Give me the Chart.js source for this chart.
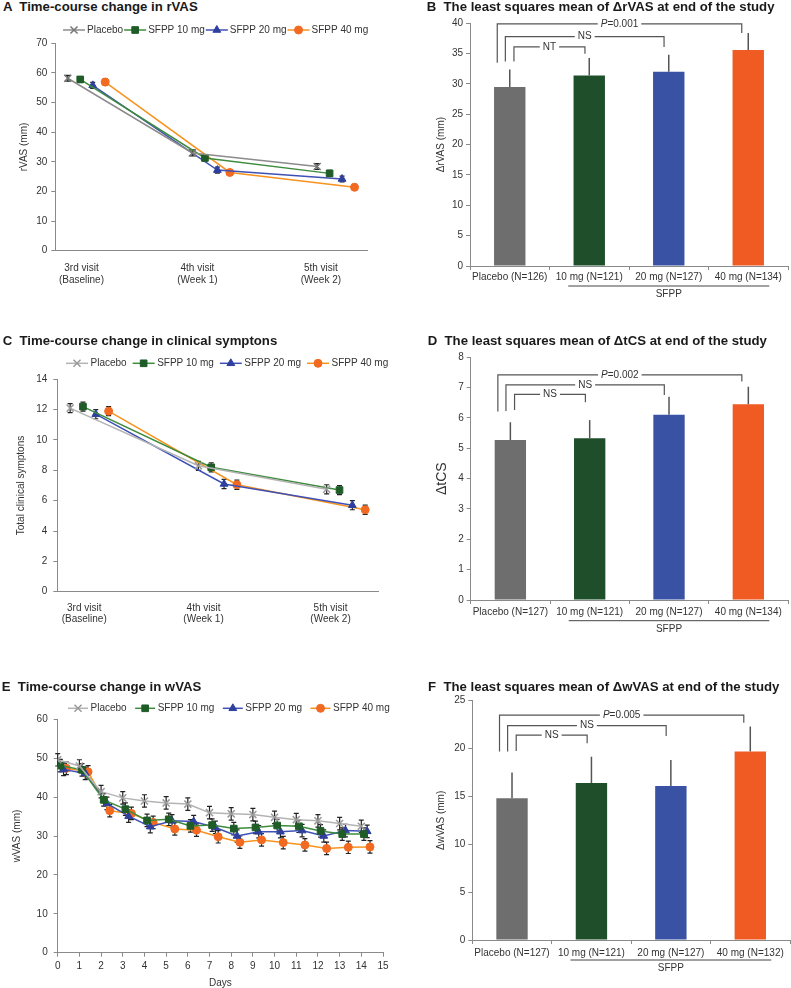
<!DOCTYPE html>
<html>
<head>
<meta charset="utf-8">
<script src="https://cdn.jsdelivr.net/npm/chart.js@4.4.1/dist/chart.umd.min.js"></script>
<style>
  body { margin: 0; width: 791px; height: 988px; overflow: hidden; background: #fff; position: relative;
         font-family: "Liberation Sans", Arial, sans-serif; }
  canvas { position: absolute; }
  .ttl { position: absolute; font-weight: bold; font-size: 13.2px; line-height: 13.2px; white-space: pre; color: #1a1a1a; }
</style>
</head>
<body>
<canvas id="cA" width="395" height="280" style="left:0;top:20px"></canvas>
<canvas id="cB" width="391" height="300" style="left:400px;top:10px"></canvas>
<canvas id="cC" width="395" height="290" style="left:0;top:345px"></canvas>
<canvas id="cD" width="391" height="300" style="left:400px;top:342px"></canvas>
<canvas id="cE" width="395" height="299" style="left:0;top:690px"></canvas>
<canvas id="cF" width="391" height="298" style="left:400px;top:690px"></canvas>

<div class="ttl" style="left:3px;top:0">A  Time-course change in rVAS</div>
<div class="ttl" style="left:426.7px;top:0">B  The least squares mean of ΔrVAS at end of the study</div>
<div class="ttl" style="left:2.7px;top:334px">C  Time-course change in clinical symptons</div>
<div class="ttl" style="left:427.7px;top:334px">D  The least squares mean of ΔtCS at end of the study</div>
<div class="ttl" style="left:1.7px;top:679.5px">E  Time-course change in wVAS</div>
<div class="ttl" style="left:428px;top:679.5px">F  The least squares mean of ΔwVAS at end of the study</div>

<script>
// ---- data ----
const groups = ['Placebo', 'SFPP 10 mg', 'SFPP 20 mg', 'SFPP 40 mg'];
const visits = [['3rd visit', '(Baseline)'], ['4th visit', '(Week 1)'], ['5th visit', '(Week 2)']];
const drugName = 'SFPP';

// A: rVAS by visit
const rvasPlacebo = [58.2, 33.0, 28.4];
const rvas10 = [57.8, 31.3, 26.1];
const rvas20 = [55.8, 27.2, 24.2];
const rvas40 = [56.9, 26.4, 21.4];
const rvasSem = [1.0, 1.0, 1.0];

// C: total clinical symptoms by visit
const tcsPlacebo = [12.1, 8.3, 6.75];
const tcs10 = [12.2, 8.2, 6.7];
const tcs20 = [11.7, 7.1, 5.7];
const tcs40 = [11.9, 7.05, 5.4];
const tcsSem = [0.3, 0.3, 0.3];

// E: wVAS by day
const days = [0, 1, 2, 3, 4, 5, 6, 7, 8, 9, 10, 11, 12, 13, 14];
const wvasPlacebo = [49.6, 48.0, 41.4, 39.8, 39.0, 38.5, 38.2, 36.0, 35.7, 35.5, 34.8, 34.2, 33.9, 33.2, 32.5];
const wvas10 = [48.1, 47.0, 39.3, 36.9, 34.0, 34.3, 32.6, 32.8, 31.9, 32.2, 32.7, 32.5, 31.3, 30.5, 30.5];
const wvas20 = [47.1, 46.1, 38.4, 35.1, 32.4, 33.9, 33.7, 32.2, 30.0, 31.1, 31.1, 31.4, 30.0, 31.4, 31.2];
const wvas40 = [47.4, 46.5, 36.5, 35.8, 33.5, 31.8, 31.5, 29.8, 28.4, 29.0, 28.3, 27.7, 26.8, 27.1, 27.2];
const wvasSem = [1.6, 1.6, 1.6, 1.6, 1.6, 1.6, 1.6, 1.6, 1.6, 1.6, 1.6, 1.6, 1.6, 1.6, 1.6];

// B: LS mean of delta rVAS
const rvasArms = ['Placebo (N=126)', '10 mg (N=121)', '20 mg (N=127)', '40 mg (N=134)'];
const rvasLsm = [29.5, 31.4, 32.0, 35.6];
const rvasLsmErr = [2.9, 2.9, 2.8, 2.8];
const rvasTest = ['P=0.001', 'NS', 'NT'];
const rvasTestTo = [3, 2, 1];
const rvasTestLevel = [39.9, 37.8, 36.1];
const rvasTestLeft = [33.5, 33.7, 33.7];
const rvasTestRight = [38.4, 36.1, 35.0];

// D: LS mean of delta tCS
const tcsArms = ['Placebo (N=127)', '10 mg (N=121)', '20 mg (N=127)', '40 mg (N=134)'];
const tcsLsm = [5.27, 5.33, 6.11, 6.45];
const tcsLsmErr = [0.59, 0.6, 0.59, 0.58];
const tcsTest = ['P=0.002', 'NS', 'NS'];
const tcsTestTo = [3, 2, 1];
const tcsTestLevel = [7.42, 7.09, 6.78];
const tcsTestLeft = [6.21, 6.23, 6.26];
const tcsTestRight = [7.2, 6.76, 6.52];

// F: LS mean of delta wVAS
const wvasArms = ['Placebo (N=127)', '10 mg (N=121)', '20 mg (N=127)', '40 mg (N=132)'];
const wvasLsm = [14.8, 16.4, 16.1, 19.7];
const wvasLsmErr = [2.7, 2.75, 2.7, 2.6];
const wvasTest = ['P=0.005', 'NS', 'NS'];
const wvasTestTo = [3, 2, 1];
const wvasTestLevel = [23.5, 22.4, 21.4];
const wvasTestLeft = [19.7, 19.7, 19.75];
const wvasTestRight = [22.7, 21.3, 20.55];

// ---- styles ----
const FONT = '"Liberation Sans", Arial, sans-serif';
Chart.defaults.font.family = FONT;
Chart.defaults.font.size = 10;
Chart.defaults.color = '#333';
const AXIS = '#8a8a8a';

const styleDark = [
  { line: '#8c8c8c', mark: '#767676', shape: 'crossRot', r: 5 },
  { line: '#3d8b3d', mark: '#1f5c28', shape: 'rect', r: 4.7 },
  { line: '#3f51b5', mark: '#2e3f9e', shape: 'triangle', r: 4.5 },
  { line: '#f7931e', mark: '#f26a21', shape: 'circle', r: 4 }
];
const styleLight = [{ line: '#b4b4b4', mark: '#9a9a9a', shape: 'crossRot', r: 5 }].concat(styleDark.slice(1));
const barColors = ['#6e6e6e', '#1f4e2a', '#3952a3', '#f05a23'];

// ---- plugins ----
function lineErrors(cap) {
  return {
    id: 'lineErrors',
    beforeDatasetsDraw(chart) {
      const ctx = chart.ctx, y = chart.scales.y;
      ctx.save();
      ctx.strokeStyle = '#222';
      ctx.lineWidth = 1.2;
      chart.data.datasets.forEach((ds, di) => {
        chart.getDatasetMeta(di).data.forEach((pt, i) => {
          const v = ds.data[i].y, e = ds.errors[i];
          const t = y.getPixelForValue(v + e), b = y.getPixelForValue(v - e);
          ctx.beginPath();
          ctx.moveTo(pt.x, t); ctx.lineTo(pt.x, b);
          ctx.moveTo(pt.x - cap, t); ctx.lineTo(pt.x + cap, t);
          ctx.moveTo(pt.x - cap, b); ctx.lineTo(pt.x + cap, b);
          ctx.stroke();
        });
      });
      ctx.restore();
    }
  };
}

function lineLegend(o) {
  return {
    id: 'lineLegend',
    afterDraw(chart) {
      const ctx = chart.ctx;
      ctx.save();
      ctx.font = '10px ' + FONT;
      ctx.textBaseline = 'middle';
      let x = o.x;
      chart.data.datasets.forEach(ds => {
        ctx.strokeStyle = ds.borderColor;
        ctx.lineWidth = 1.5;
        ctx.beginPath(); ctx.moveTo(x, o.y); ctx.lineTo(x + o.iconW, o.y); ctx.stroke();
        ctx.strokeStyle = ds.pointBorderColor;
        ctx.fillStyle = ds.pointBackgroundColor;
        ctx.lineWidth = ds.pointBorderWidth;
        Chart.helpers.drawPoint(ctx, { pointStyle: ds.pointStyle, radius: ds.pointRadius, rotation: 0,
          borderWidth: ds.pointBorderWidth }, x + o.iconW / 2, o.y);
        x += o.iconW + o.textGap;
        ctx.fillStyle = '#333';
        ctx.fillText(ds.label, x, o.y);
        x += ctx.measureText(ds.label).width + o.itemGap;
      });
      ctx.restore();
    }
  };
}

function barErrors(errs) {
  return {
    id: 'barErrors',
    afterDatasetsDraw(chart) {
      const ctx = chart.ctx, y = chart.scales.y, ds = chart.data.datasets[0];
      ctx.save();
      ctx.strokeStyle = '#555';
      ctx.lineWidth = 1.5;
      chart.getDatasetMeta(0).data.forEach((bar, i) => {
        ctx.beginPath();
        ctx.moveTo(bar.x, y.getPixelForValue(ds.data[i]));
        ctx.lineTo(bar.x, y.getPixelForValue(ds.data[i] + errs[i]));
        ctx.stroke();
      });
      ctx.restore();
    }
  };
}

// significance brackets, outermost first
function brackets(b) {
  const legL = [-12.5, -4.4, 4.2], legR = [-6.5, -4.7, -4.3];
  return {
    id: 'brackets',
    afterDatasetsDraw(chart) {
      const { ctx, scales: { x, y } } = chart;
      ctx.save();
      ctx.strokeStyle = '#555';
      ctx.lineWidth = 1.2;
      ctx.textBaseline = 'middle';
      b.labels.forEach((lab, k) => {
        const x1 = x.getPixelForValue(0) + legL[k];
        const x2 = x.getPixelForValue(b.to[k]) + legR[k];
        const yl = y.getPixelForValue(b.level[k]);
        ctx.beginPath();
        ctx.moveTo(x1, y.getPixelForValue(b.left[k]));
        ctx.lineTo(x1, yl);
        ctx.lineTo(x2, yl);
        ctx.lineTo(x2, y.getPixelForValue(b.right[k]));
        ctx.stroke();

        const parts = lab.startsWith('P=') ? [['italic ', 'P'], ['', lab.slice(1)]] : [['', lab]];
        let w = 0;
        parts.forEach(p => { ctx.font = p[0] + '10px ' + FONT; w += ctx.measureText(p[1]).width; });
        let tx = (x1 + x2) / 2 - w / 2;
        ctx.fillStyle = '#fff';
        ctx.fillRect(tx - 3, yl - 5, w + 6, 10);
        ctx.fillStyle = '#333';
        parts.forEach(p => {
          ctx.font = p[0] + '10px ' + FONT;
          ctx.fillText(p[1], tx, yl);
          tx += ctx.measureText(p[1]).width;
        });
      });
      ctx.restore();
    }
  };
}

function drugNote(lineDy, textDy) {
  return {
    id: 'drugNote',
    afterDraw(chart) {
      const { ctx, chartArea, scales: { x } } = chart;
      const x1 = x.getPixelForValue(1) - 21, x2 = x.getPixelForValue(3) + 21;
      ctx.save();
      ctx.strokeStyle = '#444';
      ctx.lineWidth = 1;
      ctx.beginPath();
      ctx.moveTo(x1, chartArea.bottom + lineDy);
      ctx.lineTo(x2, chartArea.bottom + lineDy);
      ctx.stroke();
      ctx.fillStyle = '#333';
      ctx.font = '10px ' + FONT;
      ctx.textAlign = 'center';
      ctx.textBaseline = 'middle';
      ctx.fillText(drugName, (x1 + x2) / 2, chartArea.bottom + textDy);
      ctx.restore();
    }
  };
}

// ---- builders ----
function yAxis(o) {
  return {
    min: 0, max: o.max,
    ticks: { stepSize: o.step, padding: o.tickPad, color: '#333', font: { size: 10 } },
    grid: { drawOnChartArea: false, tickLength: 4, color: AXIS },
    border: { color: AXIS, width: 1 },
    title: { display: true, text: o.title, color: '#333', font: { size: o.titleSize || 10 },
             padding: { top: o.titlePad, bottom: 0 } },
    afterFit: s => { s.width = o.width; }
  };
}

function lineChart(id, o) {
  const datasets = o.series.map((vals, k) => ({
    label: groups[k],
    data: vals.map((v, i) => ({ x: o.xs[i] + o.offs[k], y: v })),
    errors: o.errs,
    borderColor: o.styles[k].line,
    borderWidth: 1.5,
    pointStyle: o.styles[k].shape,
    pointRadius: o.styles[k].r,
    pointBorderColor: o.styles[k].mark,
    pointBackgroundColor: o.styles[k].mark,
    pointBorderWidth: o.styles[k].shape === 'crossRot' ? 1.5 : 1,
    tension: 0,
    fill: false
  }));
  return new Chart(document.getElementById(id), {
    type: 'line',
    data: { datasets },
    options: {
      responsive: false, animation: false, devicePixelRatio: 1,
      layout: { padding: o.pad },
      plugins: { legend: { display: false }, tooltip: { enabled: false } },
      scales: { x: o.x, y: yAxis(o.y) }
    },
    plugins: [lineErrors(o.cap), lineLegend(o.legend)]
  });
}

function visitAxis(tickPad, height) {
  const pos = [0.11, 1.04, 2.03];
  return {
    type: 'linear', min: -0.1, max: 2.4,
    afterBuildTicks: s => { s.ticks = pos.map(v => ({ value: v })); },
    ticks: { autoSkip: false, maxRotation: 0, padding: tickPad, color: '#333',
             font: { size: 10, lineHeight: 1.15 }, callback: (v, i) => visits[i] },
    grid: { display: false, drawTicks: false },
    border: { display: true, color: AXIS, width: 1 },
    afterFit: s => { s.height = height; }
  };
}

function barChart(id, o) {
  return new Chart(document.getElementById(id), {
    type: 'bar',
    data: {
      labels: o.labels,
      datasets: [{ data: o.values, backgroundColor: barColors, borderWidth: 0,
                   barPercentage: 0.395, categoryPercentage: 1 }]
    },
    options: {
      responsive: false, animation: false, devicePixelRatio: 1,
      layout: { padding: o.pad },
      plugins: { legend: { display: false }, tooltip: { enabled: false } },
      scales: {
        x: {
          ticks: { autoSkip: false, maxRotation: 0, padding: o.xTickPad, color: '#333', font: { size: 10 } },
          grid: { drawOnChartArea: false, tickLength: 4, color: AXIS },
          border: { color: AXIS, width: 1 },
          afterFit: s => { s.height = o.xHeight; }
        },
        y: yAxis(o.y)
      }
    },
    plugins: [barErrors(o.errs), brackets(o.tests), drugNote(o.noteDy[0], o.noteDy[1])]
  });
}

// ---- panels ----
lineChart('cA', {
  series: [rvasPlacebo, rvas10, rvas20, rvas40], errs: rvasSem,
  xs: [0, 1, 2], offs: [0, 0.1, 0.2, 0.3], styles: styleDark, cap: 2.5,
  pad: { left: 0, top: 23.3, right: 28, bottom: 0 },
  x: visitAxis(12.2, 49.3),
  y: { max: 70, step: 10, tickPad: 4, title: 'rVAS (mm)', titlePad: 18, width: 55.3 },
  legend: { x: 63, y: 10, iconW: 22, textGap: 2, itemGap: 1 }
});

lineChart('cC', {
  series: [tcsPlacebo, tcs10, tcs20, tcs40], errs: tcsSem,
  xs: [0, 1, 2], offs: [0, 0.1, 0.2, 0.3], styles: styleLight, cap: 2.5,
  pad: { left: 0, top: 34.3, right: 17, bottom: 0 },
  x: visitAxis(10.5, 43.3),
  y: { max: 14, step: 2, tickPad: 6, title: 'Total clinical symptons', titlePad: 15.7, width: 57.3 },
  legend: { x: 66, y: 18.3, iconW: 22, textGap: 2.5, itemGap: 6 }
});

lineChart('cE', {
  series: [wvasPlacebo, wvas10, wvas20, wvas40], errs: wvasSem,
  xs: days, offs: [0, 0.12, 0.27, 0.4], styles: styleLight, cap: 2.5,
  pad: { left: 0, top: 29.3, right: 12, bottom: 0 },
  x: {
    type: 'linear', min: 0, max: 15,
    ticks: { stepSize: 1, padding: 4, color: '#333', font: { size: 10 } },
    grid: { drawOnChartArea: false, tickLength: 4, color: AXIS },
    border: { color: AXIS, width: 1 },
    title: { display: true, text: 'Days', color: '#333', font: { size: 10 }, padding: { top: 0, bottom: 0 } },
    afterFit: s => { s.height = 36.3; }
  },
  y: { max: 60, step: 10, tickPad: 6, title: 'wVAS (mm)', titlePad: 11.7, width: 57.7 },
  legend: { x: 68, y: 18.3, iconW: 20, textGap: 2.5, itemGap: 8.5 }
});

barChart('cB', {
  labels: rvasArms, values: rvasLsm, errs: rvasLsmErr,
  tests: { labels: rvasTest, to: rvasTestTo, level: rvasTestLevel, left: rvasTestLeft, right: rvasTestRight },
  pad: { left: 0, top: 13.3, right: 3, bottom: 0 }, xHeight: 44, xTickPad: 1, noteDy: [20, 28],
  y: { max: 40, step: 5, tickPad: 3, title: 'ΔrVAS (mm)', titlePad: 35, width: 70 }
});

barChart('cD', {
  labels: tcsArms, values: tcsLsm, errs: tcsLsmErr,
  tests: { labels: tcsTest, to: tcsTestTo, level: tcsTestLevel, left: tcsTestLeft, right: tcsTestRight },
  pad: { left: 0, top: 15.3, right: 3, bottom: 0 }, xHeight: 42, xTickPad: 2, noteDy: [20.7, 29],
  y: { max: 8, step: 1, tickPad: 3, title: 'ΔtCS', titleSize: 14, titlePad: 33.3, width: 70.7 }
});

barChart('cF', {
  labels: wvasArms, values: wvasLsm, errs: wvasLsmErr,
  tests: { labels: wvasTest, to: wvasTestTo, level: wvasTestLevel, left: wvasTestLeft, right: wvasTestRight },
  pad: { left: 0, top: 10.7, right: 1, bottom: 0 }, xHeight: 48, xTickPad: 3, noteDy: [20, 28.3],
  y: { max: 25, step: 5, tickPad: 3, title: 'ΔwVAS (mm)', titlePad: 35.7, width: 72.3 }
});
</script>
</body>
</html>
